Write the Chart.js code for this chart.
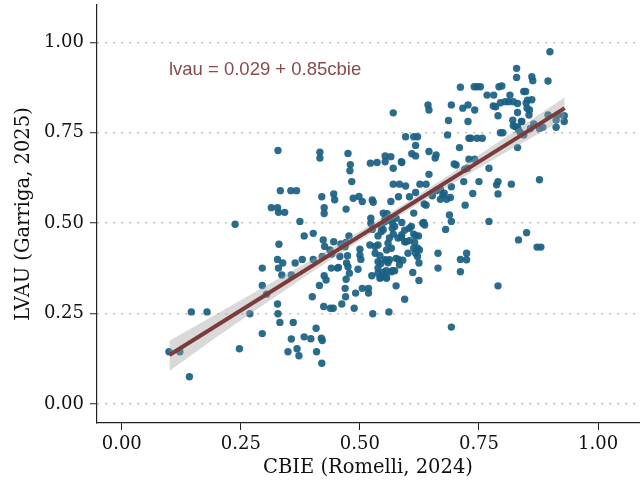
<!DOCTYPE html>
<html>
<head>
<meta charset="utf-8">
<script src="https://cdn.jsdelivr.net/npm/chart.js@4"></script>
<style>
  body { margin: 0; background: #fff; }
  canvas { display: block; }
</style>
</head>
<body>
<canvas id="scatterChart" width="643" height="484"></canvas>
<script>
// CBIE (x) and LVAU (y) per observation, grouped by x range
const cbie = [
  0.099,0.122,0.142,0.146,0.179,0.238,0.247,0.269,0.295,0.295,0.295,0.304,0.314,0.327,0.329,0.342,0.328,0.333,0.355,0.367,0.330,0.327,0.329,0.338,0.336,0.327,0.328,0.332,0.360,0.356,0.349,0.368,0.372,0.356,0.364,0.374,0.383,0.379,0.383,0.397,
  0.402,0.402,0.400,0.408,0.409,0.420,0.419,0.421,0.416,0.416,0.420,0.425,0.425,0.423,0.426,0.421,0.415,0.424,0.425,0.429,0.437,0.440,0.445,0.447,0.445,0.438,0.444,0.453,0.441,
  0.462,0.470,0.471,0.475,0.479,0.480,0.483,0.486,0.498,0.505,0.477,0.471,0.474,0.472,0.475,0.478,0.471,0.469,0.488,0.496,0.500,0.502,0.491,0.505,0.458,0.460,0.469,0.455,
  0.518,0.518,0.527,0.522,0.536,0.553,0.553,0.526,0.528,0.523,0.523,0.526,0.532,0.532,0.525,0.538,0.538,0.542,0.549,0.545,0.549,0.549,0.557,0.521,0.542,0.538,0.544,0.545,0.538,0.538,0.552,0.500,0.545,
  0.556,0.555,0.562,0.553,0.565,0.556,0.553,0.566,0.562,0.568,0.561,0.570,0.570,0.570,0.568,0.568,0.570,0.576,0.588,0.565,0.583,0.596,0.581,0.588,0.588,0.581,0.583,0.590,0.594,0.596,0.562,0.559,0.557,0.559,0.566,0.573,0.576,0.576,0.573,0.580,0.587,0.594,0.594,0.587,0.555,
  0.613,0.621,0.617,0.609,0.617,0.617,0.626,0.639,0.604,0.613,0.604,0.597,0.604,0.617,0.623,0.613,0.617,0.621,0.621,0.624,0.611,0.624,0.634,0.636,0.639,0.643,0.645,0.645,0.645,0.608,0.613,0.601,0.625,0.635,0.632,0.615,
  0.658,0.660,0.652,0.664,0.664,0.669,0.677,0.669,0.682,0.674,0.686,0.684,0.680,0.688,0.692,0.690,0.692,0.692,0.692,0.660,0.698,
  0.702,0.709,0.711,0.716,0.727,0.741,0.711,0.711,0.724,0.724,0.718,0.721,0.727,0.729,0.733,0.729,0.741,0.737,0.740,0.746,0.753,0.746,0.757,0.750,0.720,0.726,
  0.771,0.771,0.767,0.781,0.780,0.785,0.790,0.787,0.790,0.790,0.790,0.792,0.798,0.795,0.800,0.795,
  0.805,0.812,0.822,0.815,0.818,0.821,0.826,0.822,0.829,0.829,0.831,0.831,0.831,0.833,0.839,0.837,0.844,0.844,0.848,0.850,0.833,0.831,0.840,
  0.852,0.856,0.855,0.861,0.863,0.861,0.865,0.872,0.880,0.877,0.877,0.884,0.895,0.899,0.895,0.912,0.912,0.929,0.929,0.916,0.858,0.851,0.849
];
const lvau = [
  0.145,0.145,0.076,0.255,0.255,0.497,0.153,0.250,0.376,0.328,0.195,0.304,0.543,0.543,0.530,0.530,0.701,0.590,0.590,0.590,0.442,0.400,0.376,0.390,0.357,0.277,0.250,0.226,0.226,0.180,0.145,0.153,0.134,0.357,0.390,0.505,0.465,0.400,0.186,0.181,
  0.472,0.400,0.297,0.210,0.145,0.113,0.182,0.176,0.696,0.680,0.573,0.543,0.527,0.454,0.436,0.408,0.328,0.270,0.355,0.343,0.426,0.376,0.581,0.565,0.449,0.265,0.265,0.376,0.415,
  0.277,0.297,0.539,0.693,0.645,0.662,0.615,0.569,0.574,0.560,0.465,0.447,0.410,0.390,0.380,0.362,0.345,0.320,0.265,0.373,0.428,0.400,0.307,0.320,0.408,0.443,0.435,0.378,
  0.320,0.307,0.250,0.666,0.668,0.686,0.670,0.564,0.558,0.514,0.500,0.483,0.436,0.417,0.355,0.376,0.362,0.348,0.364,0.491,0.482,0.528,0.526,0.440,0.410,0.394,0.389,0.477,0.465,0.440,0.504,0.412,0.351,
  0.348,0.369,0.509,0.514,0.560,0.426,0.399,0.431,0.399,0.369,0.255,0.805,0.652,0.608,0.502,0.486,0.470,0.327,0.668,0.684,0.608,0.603,0.573,0.502,0.468,0.400,0.385,0.398,0.290,0.739,0.459,0.445,0.397,0.391,0.366,0.369,0.403,0.514,0.491,0.459,0.461,0.449,0.481,0.670,0.352,
  0.739,0.739,0.715,0.692,0.686,0.585,0.608,0.608,0.573,0.528,0.486,0.449,0.452,0.465,0.465,0.431,0.417,0.431,0.408,0.390,0.364,0.342,0.502,0.495,0.550,0.827,0.813,0.698,0.635,0.491,0.470,0.417,0.426,0.553,0.500,0.446,
  0.680,0.689,0.576,0.417,0.376,0.594,0.583,0.566,0.566,0.578,0.784,0.744,0.483,0.523,0.505,0.571,0.601,0.827,0.213,0.590,0.664,
  0.661,0.709,0.876,0.818,0.827,0.813,0.400,0.366,0.417,0.399,0.615,0.550,0.781,0.735,0.735,0.677,0.677,0.582,0.877,0.877,0.877,0.735,0.735,0.615,0.649,0.652,
  0.652,0.505,0.854,0.854,0.824,0.822,0.615,0.606,0.581,0.327,0.797,0.877,0.879,0.750,0.750,0.833,
  0.836,0.836,0.836,0.854,0.608,0.785,0.767,0.770,0.928,0.903,0.831,0.806,0.709,0.454,0.781,0.750,0.744,0.864,0.864,0.474,0.758,0.765,0.781,
  0.840,0.813,0.799,0.905,0.894,0.841,0.774,0.434,0.434,0.620,0.762,0.765,0.893,0.974,0.799,0.765,0.785,0.797,0.781,0.799,0.762,0.818,0.832
];

// fitted line ends and confidence band
const fitX = [0.10, 0.93];
const fitY = [0.136, 0.818];
const bandX = [0.10, 0.20, 0.30, 0.40, 0.50, 0.55, 0.60, 0.70, 0.80, 0.93];
const bandHi = [0.175, 0.250, 0.325, 0.400, 0.478, 0.518, 0.559, 0.644, 0.733, 0.848];
const bandLo = [0.092, 0.186, 0.277, 0.366, 0.452, 0.494, 0.535, 0.614, 0.691, 0.788];

const yTicks = [0, 0.25, 0.5, 0.75, 1];
const xTicks = [0, 0.25, 0.5, 0.75, 1];
const fitLabel = 'lvau = 0.029 + 0.85cbie';

if (cbie.length !== lvau.length) console.error('length mismatch', cbie.length, lvau.length);

const serif = "'DejaVu Serif', serif";

const fitText = {
  id: 'fitText',
  afterDatasetsDraw(chart) {
    const {ctx, scales: {x, y}} = chart;
    ctx.save();
    ctx.font = "18.5px 'Liberation Sans', Arial, sans-serif";
    ctx.fillStyle = '#8b4a4a';
    ctx.textAlign = 'left';
    ctx.textBaseline = 'middle';
    ctx.fillText(fitLabel, x.getPixelForValue(0.099), y.getPixelForValue(0.923));
    ctx.restore();
  }
};

const ctx = document.getElementById('scatterChart').getContext('2d');

const scatterChart = new Chart(ctx, {
  type: 'scatter',
  data: {
    datasets: [
      {
        label: 'fit',
        type: 'line',
        data: fitX.map((v, i) => ({x: v, y: fitY[i]})),
        borderColor: '#7b3b3b',
        borderWidth: 4,
        pointRadius: 0,
        fill: false,
        order: 1
      },
      {
        label: 'band hi',
        type: 'line',
        data: bandX.map((v, i) => ({x: v, y: bandHi[i]})),
        borderWidth: 0,
        pointRadius: 0,
        backgroundColor: 'rgba(160,160,160,0.4)',
        fill: '+1',
        order: 2
      },
      {
        label: 'band lo',
        type: 'line',
        data: bandX.map((v, i) => ({x: v, y: bandLo[i]})),
        borderWidth: 0,
        pointRadius: 0,
        fill: false,
        order: 2
      },
      {
        label: 'obs',
        data: cbie.map((v, i) => ({x: v, y: lvau[i]})),
        backgroundColor: 'rgba(27,97,131,0.93)',
        borderWidth: 0,
        pointRadius: 3.7,
        order: 3
      }
    ]
  },
  options: {
    responsive: false,
    animation: false,
    devicePixelRatio: 1,
    layout: { padding: { top: 5, right: -4, left: 0, bottom: 0 } },
    plugins: {
      legend: { display: false },
      tooltip: { enabled: false }
    },
    scales: {
      x: {
        type: 'linear',
        min: -0.052,
        max: 1.086,
        afterBuildTicks: s => { s.ticks = xTicks.map(v => ({value: v})); },
        afterFit: s => { s.height = 61; s.paddingLeft = 0; s.paddingRight = 0; },
        grid: {
          color: 'rgba(0,0,0,0)',
          drawOnChartArea: false,
          tickColor: '#222',
          tickLength: 7,
          tickWidth: 1
        },
        border: { color: '#222', width: 1.2 },
        ticks: {
          color: '#111',
          padding: 4,
          maxRotation: 0,
          font: { family: serif, size: 18 },
          callback: v => v.toFixed(2)
        },
        title: {
          display: true,
          text: 'CBIE (Romelli, 2024)',
          color: '#111',
          padding: { top: 4, bottom: 4 },
          font: { family: serif, size: 19.5 }
        }
      },
      y: {
        type: 'linear',
        min: -0.052,
        max: 1.103,
        afterBuildTicks: s => { s.ticks = yTicks.map(v => ({value: v})); },
        afterFit: s => { s.width = 97; s.paddingTop = 0; s.paddingBottom = 0; },
        grid: {
          color: '#bdbdbd',
          lineWidth: 1.5,
          tickColor: '#222',
          tickLength: 7,
          tickWidth: 1
        },
        border: { color: '#222', width: 1.2, dash: [2, 6] },
        ticks: {
          color: '#111',
          padding: 6,
          font: { family: serif, size: 18 },
          callback: v => v.toFixed(2)
        },
        title: {
          display: true,
          text: 'LVAU (Garriga, 2025)',
          color: '#111',
          padding: { top: 12, bottom: 4 },
          font: { family: serif, size: 19.5 }
        }
      }
    }
  },
  plugins: [fitText]
});
</script>
</body>
</html>
